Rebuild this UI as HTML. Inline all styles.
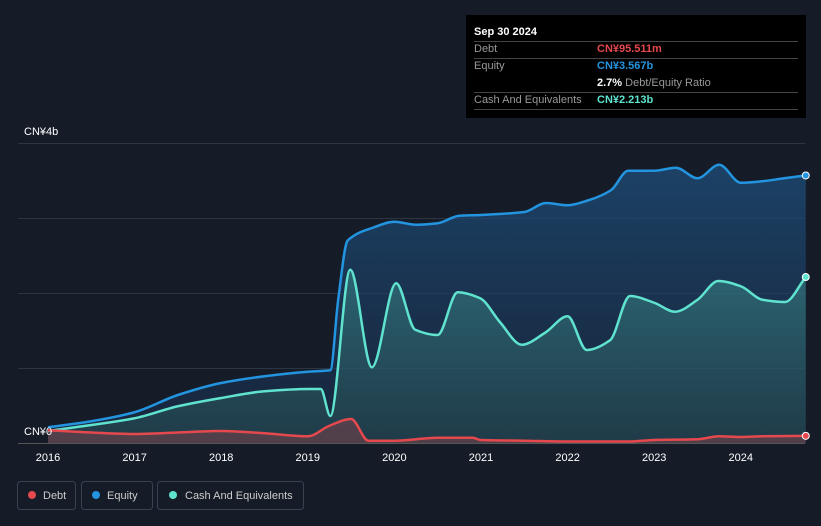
<!DOCTYPE html>
<html><head><meta charset="utf-8"><style>
body{margin:0;background:#151b27;font-family:"Liberation Sans",sans-serif;}
#c{position:relative;width:821px;height:526px;overflow:hidden;background:#151b27;}
</style></head><body>
<div id="c">
<svg id="s" width="821" height="526" xmlns="http://www.w3.org/2000/svg">
<defs>
<linearGradient id="ge" x1="0" y1="0" x2="0" y2="1"><stop offset="0" stop-color="#1e4f7c" stop-opacity="0.75"/><stop offset="1" stop-color="#1a3050" stop-opacity="0.5"/></linearGradient>
<linearGradient id="gc" x1="0" y1="0" x2="0" y2="1"><stop offset="0" stop-color="#3a8a8a" stop-opacity="0.55"/><stop offset="1" stop-color="#2a5558" stop-opacity="0.45"/></linearGradient>
</defs>
<g id="grid"></g>
<g id="marks"></g>
<text x="24" y="135" fill="#fff" font-size="11">CN¥4b</text>
<text x="24" y="435" fill="#fff" font-size="11">CN¥0</text>
<g id="xt"></g>
<g>
<rect x="466" y="15" width="340" height="103" fill="#000"/>
<text x="474" y="35" fill="#fff" font-size="11" font-weight="bold">Sep 30 2024</text>
<line x1="474" y1="41.5" x2="798" y2="41.5" stroke="#444"/>
<text x="474" y="52" fill="#999" font-size="11">Debt</text>
<text x="597" y="52" fill="#e5484d" font-size="11" font-weight="bold">CN¥95.511m</text>
<line x1="474" y1="58.5" x2="798" y2="58.5" stroke="#444"/>
<text x="474" y="69" fill="#999" font-size="11">Equity</text>
<text x="597" y="69" fill="#2394df" font-size="11" font-weight="bold">CN¥3.567b</text>
<text x="597" y="86" fill="#fff" font-size="11"><tspan font-weight="bold">2.7%</tspan><tspan fill="#999"> Debt/Equity Ratio</tspan></text>
<line x1="474" y1="92.5" x2="798" y2="92.5" stroke="#444"/>
<text x="474" y="103" fill="#999" font-size="11">Cash And Equivalents</text>
<text x="597" y="103" fill="#5fe3cf" font-size="11" font-weight="bold">CN¥2.213b</text>
<line x1="474" y1="109.5" x2="798" y2="109.5" stroke="#444"/>
</g>
<g>
<rect x="17.5" y="481.5" width="58" height="28" rx="3" fill="none" stroke="#3a4150"/>
<circle cx="32" cy="495" r="4" fill="#e5484d"/><text x="43" y="499" fill="#ccc" font-size="11">Debt</text>
<rect x="81.5" y="481.5" width="71" height="28" rx="3" fill="none" stroke="#3a4150"/>
<circle cx="96" cy="495" r="4" fill="#2394df"/><text x="107" y="499" fill="#ccc" font-size="11">Equity</text>
<rect x="157.5" y="481.5" width="146" height="28" rx="3" fill="none" stroke="#3a4150"/>
<circle cx="173" cy="495" r="4" fill="#5fe3cf"/><text x="185" y="499" fill="#ccc" font-size="11">Cash And Equivalents</text>
</g>
</svg>
</div>
<script>
const xTicks=[2016,2017,2018,2019,2020,2021,2022,2023,2024];
const yTicks=[0,1,2,3,4];
const eqT=[2016,2016.5,2017,2017.5,2018,2018.5,2019,2019.26,2019.35,2019.46,2019.75,2020,2020.25,2020.5,2020.75,2021,2021.5,2021.75,2022,2022.25,2022.5,2022.7,2023,2023.25,2023.5,2023.75,2024,2024.25,2024.5,2024.75];
const eqV=[0.21,0.29,0.41,0.64,0.8,0.89,0.95,0.97,1.9,2.7,2.87,2.95,2.91,2.93,3.03,3.04,3.08,3.2,3.17,3.24,3.37,3.63,3.63,3.67,3.53,3.71,3.47,3.49,3.53,3.567];
const cashT=[2016,2016.5,2017,2017.5,2018,2018.5,2019,2019.15,2019.26,2019.49,2019.74,2020.02,2020.24,2020.5,2020.73,2020.99,2021.22,2021.47,2021.74,2022.0,2022.22,2022.49,2022.72,2023.0,2023.24,2023.5,2023.74,2024.0,2024.25,2024.51,2024.75];
const cashV=[0.16,0.24,0.33,0.49,0.6,0.69,0.72,0.72,0.36,2.31,1.01,2.13,1.51,1.44,2.01,1.93,1.61,1.31,1.47,1.69,1.24,1.37,1.96,1.87,1.75,1.91,2.16,2.09,1.91,1.88,2.213];
const debtT=[2016,2016.5,2017,2017.5,2018,2018.5,2019,2019.25,2019.5,2019.7,2020,2020.5,2020.9,2021,2021.5,2022,2022.7,2023,2023.5,2023.75,2024,2024.25,2024.75];
const debtV=[0.17,0.14,0.12,0.14,0.16,0.13,0.09,0.23,0.32,0.03,0.03,0.07,0.07,0.04,0.03,0.02,0.02,0.04,0.05,0.09,0.08,0.09,0.0955];
const X=t=>48+(t-2016)*86.6, Y=v=>443-v*75;
const NS='http://www.w3.org/2000/svg';
function mk(tag,a,parent){const e=document.createElementNS(NS,tag);for(const k in a)e.setAttribute(k,a[k]);parent.appendChild(e);return e;}
function path(T,V){const xs=T.map(X),ys=V.map(Y),n=xs.length;
const dl=[],m=[];for(let i=0;i<n-1;i++)dl.push((ys[i+1]-ys[i])/(xs[i+1]-xs[i]));
for(let i=0;i<n;i++){if(i==0)m.push(dl[0]);else if(i==n-1)m.push(dl[n-2]);else m.push(dl[i-1]*dl[i]<=0?0:2/(1/dl[i-1]+1/dl[i]));}
let d='M'+xs[0]+','+ys[0];
for(let i=0;i<n-1;i++){const h=(xs[i+1]-xs[i])/3;d+=` C${xs[i]+h},${ys[i]+m[i]*h} ${xs[i+1]-h},${ys[i+1]-m[i+1]*h} ${xs[i+1]},${ys[i+1]}`;}return d;}
const g=document.getElementById('grid'),mg=document.getElementById('marks'),xt=document.getElementById('xt');
yTicks.forEach(v=>{const l=mk('line',{x1:18,x2:805,y1:Y(v)+0.5,y2:Y(v)+0.5,stroke:v==0?'#555':'#2e3542'},g);

});
xTicks.forEach(t=>{const e=mk('text',{x:X(t),y:461,fill:'#fff','font-size':11,'text-anchor':'middle'},xt);e.textContent=t;

});
const base=Y(0);
function series(T,V,fill,stroke,name){
const d=path(T,V);
const a=mk('path',{d:d+` L${X(T[T.length-1])},${base} L${X(T[0])},${base} Z`,fill:fill},mg);


const l=mk('path',{d:d,fill:'none',stroke:stroke,'stroke-width':2.5},mg);


const c=mk('circle',{cx:X(T[T.length-1]),cy:Y(V[V.length-1]),r:3.5,fill:stroke,stroke:'#fff','stroke-width':1},mg);

}
series(eqT,eqV,'url(#ge)','#2394df','equity');
series(cashT,cashV,'url(#gc)','#5fe3cf','cash');
series(debtT,debtV,'rgba(229,72,77,0.25)','#e5484d','debt');
</script>
</body></html>
